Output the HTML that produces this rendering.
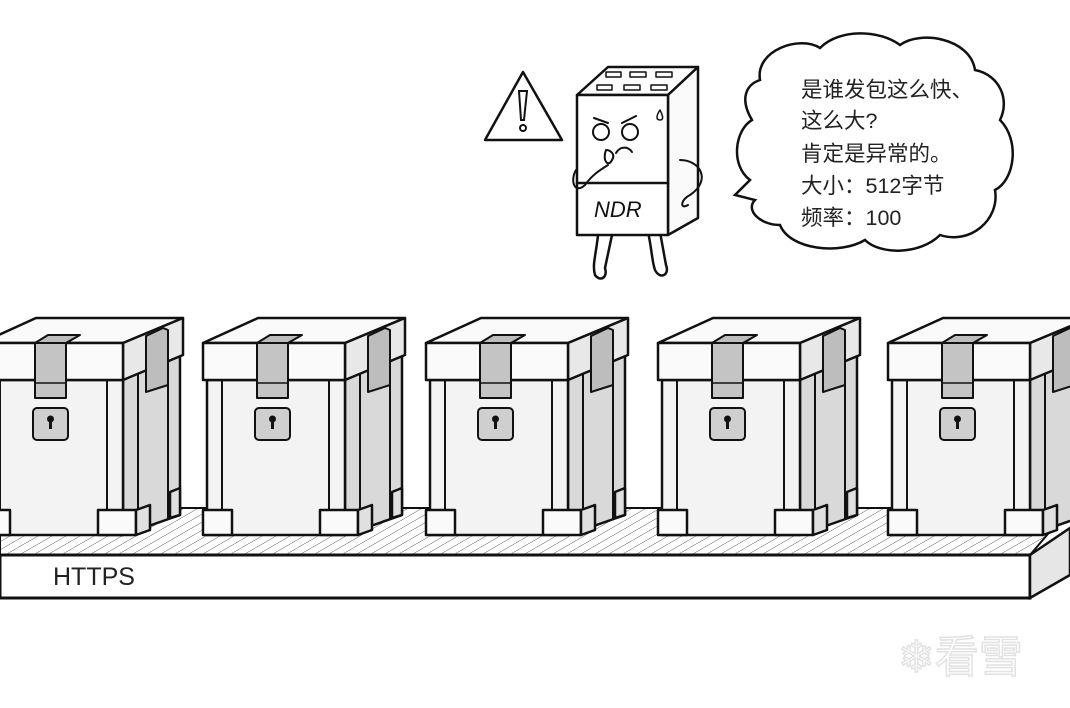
<!DOCTYPE html>
<html><head><meta charset="utf-8"><style>
html,body{margin:0;padding:0;background:#fff;width:1070px;height:708px;overflow:hidden}
svg{display:block}
</style></head><body>
<svg width="1070" height="708" viewBox="0 0 1070 708" xmlns="http://www.w3.org/2000/svg">
<defs>
<pattern id="hatch" width="14" height="14" patternUnits="userSpaceOnUse" patternTransform="skewX(-60)">
<line x1="0" y1="0" x2="0" y2="14" stroke="#333" stroke-width="1.5"/>
</pattern>
<g id="box" stroke="#111" stroke-width="2.5" stroke-linejoin="round">
<path d="M345 380 L402 352 L402 515 L345 535 Z" fill="#d9d9d9"/>
<path d="M360 372 L360 528" fill="none" stroke-width="2"/>
<path d="M390 360 L390 520" fill="none" stroke-width="2"/>
<rect x="207" y="380" width="138" height="155" fill="#f3f3f3"/>
<line x1="222" y1="380" x2="222" y2="512" stroke-width="2"/>
<line x1="329" y1="380" x2="329" y2="512" stroke-width="2"/>
<rect x="203" y="510" width="29" height="25" fill="#fafafa"/>
<path d="M320 510 L358 510 L358 535 L320 535 Z" fill="#fafafa"/>
<path d="M358 510 L372 505 L372 530 L358 535 Z" fill="#e0e0e0"/>
<path d="M392 492 L402 488 L402 515 L392 518 Z" fill="#e0e0e0"/>
<path d="M203 343 L258 318 L405 318 L345 343 Z" fill="#fafafa"/>
<path d="M345 343 L405 318 L405 355 L345 380 Z" fill="#e8e8e8"/>
<rect x="203" y="343" width="142" height="37" fill="#fafafa"/>
<path d="M257 343 L270 335 L302 335 L288 343 Z" fill="#bdbdbd" stroke-width="2"/>
<rect x="257" y="343" width="31" height="55" fill="#c4c4c4" stroke-width="2"/>
<line x1="257" y1="383" x2="288" y2="383" stroke-width="1.5"/>
<path d="M368 336 L385 328 L390 330 L390 385 L368 392 Z" fill="#bdbdbd" stroke-width="2"/>
<rect x="255" y="408" width="35" height="32" rx="4" fill="#cfcfcf" stroke-width="2"/>
<circle cx="272.5" cy="419" r="3.5" fill="#111" stroke="none"/>
<rect x="271" y="420" width="3" height="9" fill="#111" stroke="none"/>
</g>
</defs>

<path d="M0 508 L1070 508 L1030 555 L0 555 Z" fill="url(#hatch)"/>
<path d="M0 508 L1070 508 L1030 555 L0 555 Z" fill="none" stroke="#111" stroke-width="2"/>
<path d="M0 555 L1030 555 L1030 598 L0 598 Z" fill="#fff" stroke="#111" stroke-width="3"/>
<path d="M1030 555 L1070 528 L1070 575 L1030 598 Z" fill="#e6e6e6" stroke="#111" stroke-width="2.5"/>
<text x="53" y="585" font-family="Liberation Sans, sans-serif" font-size="25" fill="#222">HTTPS</text>

<use href="#box" transform="translate(-222,0)"/>
<use href="#box"/>
<use href="#box" transform="translate(223,0)"/>
<use href="#box" transform="translate(455,0)"/>
<use href="#box" transform="translate(685,0)"/>

<path d="M485 140 L523 72 L562 140 Z" fill="#fff" stroke="#111" stroke-width="2.5" stroke-linejoin="round"/>
<path d="M519 91 L527 91 L524 120 L521 120 Z" fill="#fff" stroke="#111" stroke-width="2"/>
<circle cx="523" cy="128" r="3" fill="#fff" stroke="#111" stroke-width="2"/>

<g stroke="#111" stroke-width="2.5" fill="#fff" stroke-linejoin="round" stroke-linecap="round">
<path d="M598 235 C596 255 592 265 595 275 C600 282 608 278 605 268 L612 235" />
<path d="M648 232 C652 250 652 262 655 270 C660 280 670 275 666 265 L660 232"/>
<path d="M577 95 L608 67 L698 67 L668 95 Z"/>
<path d="M668 95 L698 67 L698 218 L668 235 Z" fill="#fafafa"/>
<rect x="577" y="95" width="91" height="140"/>
<line x1="577" y1="183" x2="668" y2="183"/>
<g stroke-width="1.5">
<rect x="606" y="72" width="15" height="5"/><rect x="630" y="72" width="16" height="5"/><rect x="656" y="72" width="16" height="5"/>
<rect x="597" y="85" width="15" height="5"/><rect x="624" y="85" width="16" height="5"/><rect x="651" y="85" width="16" height="5"/>
</g>
<circle cx="601" cy="132" r="8" stroke-width="2"/>
<circle cx="630" cy="132" r="8" stroke-width="2"/>
<path d="M594 118 L608 123 M622 123 L636 116" fill="none" stroke-width="2"/>
<path d="M616 153 C620 146 628 146 632 152" fill="none" stroke-width="2"/>
<path d="M606 150 C602 160 608 168 612 160 C616 154 610 150 606 150Z" stroke-width="2"/>
<path d="M576 170 C570 180 574 195 585 185 C592 175 600 170 608 165" fill="none" stroke-width="2"/>
<path d="M680 160 C700 160 712 180 690 195 C680 200 680 210 688 205" fill="none" stroke-width="2"/>
<path d="M660 110 C656 116 656 120 660 120 C664 120 663 116 660 110Z" stroke-width="1.5"/>
</g>
<text x="594" y="217" font-family="Liberation Sans, sans-serif" font-style="italic" font-size="22" fill="#111">NDR</text>

<path d="M760 80 C755 50 800 35 820 48 C840 28 880 30 900 45 C920 30 970 38 975 70 C1000 75 1010 100 1000 120 C1020 140 1015 180 995 190 C1000 220 970 245 940 235 C920 255 880 255 865 240 C840 255 790 250 780 225 C760 225 745 210 755 200 L735 195 L750 180 C730 165 735 130 752 120 C740 100 745 85 760 80 Z" fill="#fff" stroke="#111" stroke-width="2.5"/>
<g font-family="Liberation Sans, 'Noto Sans CJK SC', sans-serif" font-size="21.5" fill="#222">
<text x="801" y="97">是谁发包这么快、</text>
<text x="801" y="128">这么大?</text>
<text x="801" y="161">肯定是异常的。</text>
<text x="801" y="193">大小：512字节</text>
<text x="801" y="225">频率：100</text>
</g>

<text x="898" y="672" font-family="'Noto Sans CJK SC', sans-serif" font-size="44" fill="#fff" stroke="#e2e2e2" stroke-width="1.5">❄看雪</text>
</svg>
</body></html>
